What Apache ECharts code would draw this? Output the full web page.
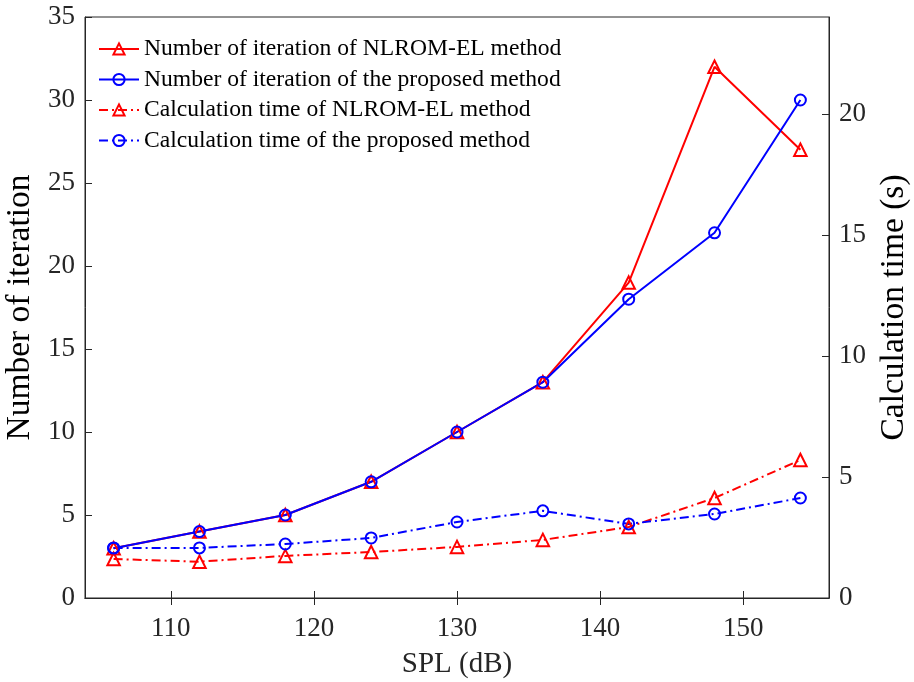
<!DOCTYPE html>
<html>
<head>
<meta charset="utf-8">
<script src="https://cdn.jsdelivr.net/npm/echarts@6/dist/echarts.min.js"></script>
<style>
html,body{margin:0;padding:0;background:#fff;}
#chart{width:914px;height:682px;}
</style>
</head>
<body>
<div id="chart"></div>
<script>
const spl = [106, 112, 118, 124, 130, 136, 142, 148, 154];
const iterNLROM = [3, 4, 5, 7, 10, 13, 19, 32, 27];
const iterProposed = [3, 4, 5, 7, 10, 13, 18, 22, 30];
const timeNLROM = [1.61, 1.50, 1.74, 1.90, 2.11, 2.40, 2.93, 4.13, 5.70];
const timeProposed = [2.07, 2.07, 2.23, 2.48, 3.14, 3.60, 3.06, 3.47, 4.13];
const xTicks = [110, 120, 130, 140, 150];
const leftTicks = [0, 5, 10, 15, 20, 25, 30, 35];
const rightTicks = [0, 5, 10, 15, 20];
const names = [
  'Number of iteration of NLROM-EL method',
  'Number of iteration of the proposed method',
  'Calculation time of NLROM-EL method',
  'Calculation time of the proposed method'
];

const FONT = '"Liberation Serif", "Times New Roman", serif';
const AX = '#262626';
const RED = '#ff0000';
const BLUE = '#0000ff';
const dashDot = [9, 4, 2, 4];
const TICKFS = 27;
const NAMEFS = 33.5;

function pairs(xs, ys) { return xs.map((x, i) => [x, ys[i]]); }

function mk(name, data, color, sym, yIdx, dashed) {
  return {
    name: name,
    type: 'line',
    yAxisIndex: yIdx,
    data: data,
    symbol: sym,
    symbolSize: sym === 'triangle' ? 12.5 : 11,
    showAllSymbol: true,
    lineStyle: { color: color, width: 2, type: dashed ? dashDot : 'solid' },
    itemStyle: { color: 'rgba(255,255,255,0)', borderColor: color, borderWidth: 2 },
    emphasis: { disabled: true },
    animation: false,
    z: 2
  };
}

const chart = echarts.init(document.getElementById('chart'), null, { renderer: 'canvas' });
chart.setOption({
  backgroundColor: '#ffffff',
  animation: false,
  textStyle: { fontFamily: FONT },
  grid: {
    left: 85, right: 85, top: 17, bottom: 84,
    containLabel: false, outerBoundsMode: 'none',
    show: true, borderColor: AX, borderWidth: 1, backgroundColor: 'transparent'
  },
  legend: {
    orient: 'vertical',
    left: 93,
    top: 32,
    itemWidth: 40,
    itemHeight: 14,
    itemGap: 6.5,
    textStyle: { fontFamily: FONT, fontSize: 23.6, color: '#000', lineHeight: 24 },
    data: names
  },
  xAxis: [{
    type: 'value', min: 104, max: 156,
    name: 'SPL (dB)', nameLocation: 'middle', nameGap: 52,
    nameTextStyle: { fontFamily: FONT, fontSize: 29, color: '#262626' },
    axisLine: { show: true, lineStyle: { color: AX, width: 1 } },
    axisTick: { show: true, inside: true, length: 7, customValues: xTicks, lineStyle: { color: AX } },
    axisLabel: { show: true, customValues: xTicks, fontFamily: FONT, fontSize: TICKFS, color: '#262626', margin: 17 },
    splitLine: { show: false }
  }, {
    type: 'value', min: 104, max: 156, position: 'top',
    axisLine: { show: true, lineStyle: { color: AX, width: 1 } },
    axisTick: { show: true, inside: true, length: 7, customValues: xTicks, lineStyle: { color: AX } },
    axisLabel: { show: false },
    splitLine: { show: false }
  }],
  yAxis: [{
    type: 'value', min: 0, max: 35, interval: 5, position: 'left',
    name: 'Number of iteration', nameLocation: 'middle', nameGap: 45,
    nameTextStyle: { fontFamily: FONT, fontSize: NAMEFS, color: '#000' },
    axisLine: { show: true, lineStyle: { color: AX, width: 1 } },
    axisTick: { show: true, inside: true, length: 7, customValues: leftTicks, lineStyle: { color: AX } },
    axisLabel: { customValues: leftTicks, fontFamily: FONT, fontSize: TICKFS, color: '#262626', margin: 10 },
    splitLine: { show: false }
  }, {
    type: 'value', min: 0, max: 24, position: 'right',
    name: 'Calculation time (s)', nameLocation: 'middle', nameGap: 47, nameRotate: 90,
    nameTextStyle: { fontFamily: FONT, fontSize: NAMEFS, color: '#000' },
    axisLine: { show: true, lineStyle: { color: AX, width: 1 } },
    axisTick: { show: true, inside: true, length: 7, customValues: rightTicks, lineStyle: { color: AX } },
    axisLabel: { customValues: rightTicks, fontFamily: FONT, fontSize: TICKFS, color: '#262626', margin: 10 },
    splitLine: { show: false }
  }],
  series: [
    mk(names[0], pairs(spl, iterNLROM), RED, 'triangle', 0, false),
    mk(names[1], pairs(spl, iterProposed), BLUE, 'circle', 0, false),
    mk(names[2], pairs(spl, timeNLROM), RED, 'triangle', 1, true),
    mk(names[3], pairs(spl, timeProposed), BLUE, 'circle', 1, true)
  ]
});
</script>
</body>
</html>
